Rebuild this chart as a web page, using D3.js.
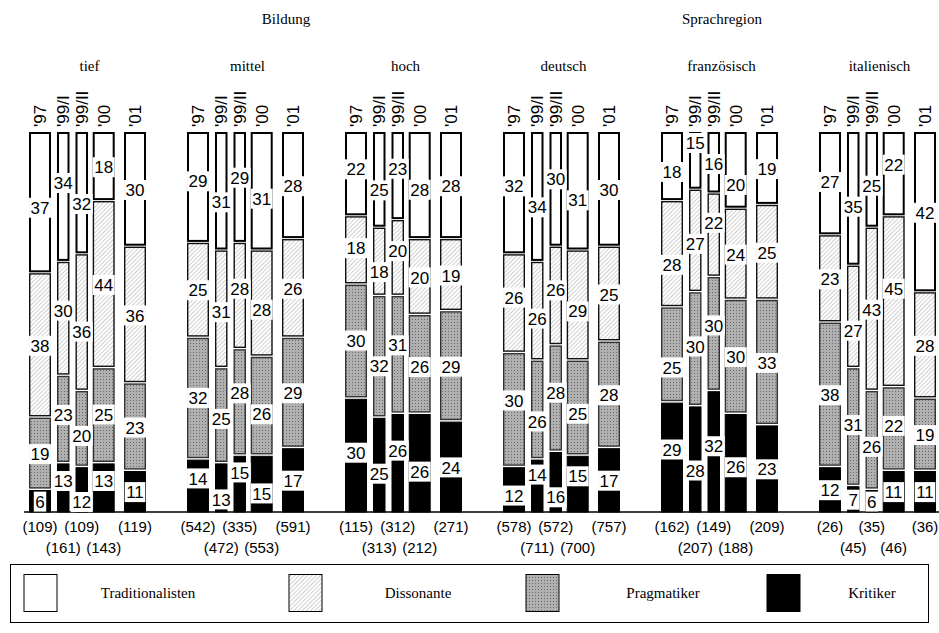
<!DOCTYPE html>
<html><head><meta charset="utf-8">
<script src="https://cdn.jsdelivr.net/npm/d3@7"></script>
<style>body{margin:0;background:#fff}</style>
</head><body>
<svg id="c" width="939" height="633"></svg>
<script>
// ---------- data ----------
const supergroups = ["Bildung", "Sprachregion"];
const groups = ["tief", "mittel", "hoch", "deutsch", "französisch", "italienisch"];
const waves = ["'97", "'99/I", "'99/II", "'00", "'01"];
const types = ["Traditionalisten", "Dissonante", "Pragmatiker", "Kritiker"];
// values per wave: [Traditionalisten, Dissonante, Pragmatiker, Kritiker]
const tief        = [[37,38,19,6],[34,30,23,13],[32,36,20,12],[18,44,25,13],[30,36,23,11]];
const mittel      = [[29,25,32,14],[31,31,25,13],[29,28,28,15],[31,28,26,15],[28,26,29,17]];
const hoch        = [[22,18,30,30],[25,18,32,25],[23,20,31,26],[28,20,26,26],[28,19,29,24]];
const deutsch     = [[32,26,30,12],[34,26,26,14],[30,26,28,16],[31,29,25,15],[30,25,28,17]];
const franzoesisch= [[18,28,25,29],[15,27,30,28],[16,22,30,32],[20,24,30,26],[19,25,33,23]];
const italienisch = [[27,23,38,12],[35,27,31,7],[25,43,26,6],[22,45,22,11],[42,28,19,11]];
const groupValues = [tief, mittel, hoch, deutsch, franzoesisch, italienisch];
// sample sizes per wave
const nTief = [109,161,109,143,119];
const nMittel = [542,472,335,553,591];
const nHoch = [115,313,312,212,271];
const nDeutsch = [578,711,572,700,757];
const nFranz = [162,207,149,188,209];
const nItal = [26,45,35,46,36];
const groupN = [nTief, nMittel, nHoch, nDeutsch, nFranz, nItal];

// ---------- layout ----------
const svg = d3.select("#c");
const yBase = 512, yTop = 132;
const y = d3.scaleLinear().domain([0, 100]).range([yBase, yTop]);
const gx = d3.scaleBand().domain(groups).range([29, 936]).paddingInner(0.2595).paddingOuter(0);
const waveOffset = d3.scaleOrdinal(waves, [0, 28, 46.5, 63.7, 95]);
const waveWidth = d3.scaleOrdinal(waves, [22, 12.5, 12.5, 22, 22]);
const nRow = d3.scaleOrdinal(waves, [0, 1, 0, 1, 0]);

const defs = svg.append("defs");
const hatch = defs.append("pattern").attr("id", "hatch").attr("patternUnits", "userSpaceOnUse")
  .attr("width", 3).attr("height", 3).attr("patternTransform", "rotate(45)");
hatch.append("rect").attr("width", 3).attr("height", 3).attr("fill", "#fff");
hatch.append("line").attr("x1", 0).attr("y1", 0).attr("x2", 0).attr("y2", 3)
  .attr("stroke", "#a0a0a0").attr("stroke-width", 1);
const dots = defs.append("pattern").attr("id", "dots").attr("patternUnits", "userSpaceOnUse")
  .attr("width", 3).attr("height", 3);
dots.append("rect").attr("width", 3).attr("height", 3).attr("fill", "#b0b0b0");
dots.append("rect").attr("x", 1).attr("y", 1).attr("width", 1).attr("height", 1).attr("fill", "#6a6a6a");

const fills = d3.scaleOrdinal(types, ["#ffffff", "url(#hatch)", "url(#dots)", "#000000"]);
const strokes = d3.scaleOrdinal(types, ["#000", "#111", "#333", "#000"]);
const strokeW = d3.scaleOrdinal(types, [2, 1.4, 1.4, 1]);

// build segments
const segs = [];
groups.forEach((g, gi) => {
  waves.forEach((w, wi) => {
    let cum = 0;
    types.slice().reverse().forEach((t) => {
      const ti = types.indexOf(t);
      const v = groupValues[gi][wi][ti];
      segs.push({g, gi, w, wi, t, v, y0: cum, y1: cum + v,
        x: gx(g) + waveOffset(w), width: waveWidth(w)});
      cum += v;
    });
  });
});

// bars
const barG = svg.append("g");
barG.selectAll("rect").data(segs).join("rect")
  .attr("x", d => d.x + strokeW(d.t) / 2)
  .attr("width", d => d.width - strokeW(d.t))
  .attr("y", d => y(d.y1) + (d.y1 >= 100 ? strokeW(d.t)/2 : 1.3))
  .attr("height", d => Math.max(0, y(d.y0) - y(d.y1) - (d.y1 >= 100 ? strokeW(d.t)/2 : 1.3) - (d.y0 === 0 ? 0 : 1.3)))
  .attr("fill", d => fills(d.t))
  .attr("stroke", d => strokes(d.t))
  .attr("stroke-width", d => strokeW(d.t));

// axis baseline
svg.append("line").attr("x1", 24).attr("x2", 939).attr("y1", yBase).attr("y2", yBase)
  .attr("stroke", "#000").attr("stroke-width", 1.5);

// value labels with simple collision repel
const labG = svg.append("g").attr("font-family", "'Liberation Sans', Arial, sans-serif").attr("font-size", 17);
const labs = segs.map(d => ({...d, cx: d.x + d.width / 2, cy: (y(d.y0) + y(d.y1)) / 2 + 1}));
const tmp = labG.append("text").text("00");
labs.forEach(l => { tmp.text(String(l.v)); l.tw = tmp.node().getComputedTextLength(); l.bw = l.tw + 3; l.ly = l.cy; });
tmp.remove();
groups.forEach(g => {
  const L = labs.filter(l => l.g === g);
  const sep = 21, padX = 3;
  for (let it = 0; it < 400; it++) {
    for (let i = 0; i < L.length; i++) for (let j = i + 1; j < L.length; j++) {
      const a = L[i], b = L[j];
      if (Math.abs(a.cx - b.cx) >= (a.bw + b.bw) / 2 + padX) continue;
      let dy = b.ly - a.ly;
      if (Math.abs(dy) >= sep) continue;
      let s = dy > 0 ? 1 : dy < 0 ? -1 : (b.cy >= a.cy ? 1 : -1);
      const push = (sep - Math.abs(dy)) / 2 * 0.5;
      a.ly -= s * push; b.ly += s * push;
    }
    L.forEach(l => { l.ly = Math.max(yTop + 11, Math.min(yBase - 10, l.ly)); });
  }
});
labG.selectAll("rect").data(labs).join("rect")
  .attr("x", d => d.cx - d.bw / 2).attr("y", d => d.ly - 10)
  .attr("width", d => d.bw).attr("height", 20).attr("fill", "#fff");
labG.selectAll("text").data(labs).join("text")
  .attr("x", d => d.cx).attr("y", d => d.ly).attr("dy", "0.36em")
  .attr("text-anchor", "middle").attr("fill", "#000").text(d => d.v);

// wave labels (rotated)
const bars = [];
groups.forEach((g, gi) => waves.forEach((w, wi) => bars.push({g, gi, w, wi,
  cx: gx(g) + waveOffset(w) + waveWidth(w) / 2, n: groupN[gi][wi]})));
svg.append("g").attr("font-family", "'Liberation Sans', Arial, sans-serif").attr("font-size", 17)
  .selectAll("text").data(bars).join("text")
  .attr("transform", d => `translate(${d.cx + 6},127) rotate(-90)`)
  .attr("text-anchor", "start").text(d => d.w);

// sample sizes
svg.append("g").attr("font-family", "'Liberation Sans', Arial, sans-serif").attr("font-size", 15)
  .selectAll("text").data(bars).join("text")
  .attr("x", d => d.cx).attr("y", d => 532 + nRow(d.w) * 21)
  .attr("text-anchor", "middle").text(d => `(${d.n})`);

// headers
const serif = "'Liberation Serif', 'Times New Roman', serif";
svg.append("g").attr("font-family", serif).attr("font-size", 15)
  .selectAll("text").data(groups).join("text")
  .attr("x", d => gx(d) + gx.bandwidth() / 2 + 2).attr("y", 71)
  .attr("text-anchor", "middle").text(d => d);
const superCenter = [286, 722];
svg.append("g").attr("font-family", serif).attr("font-size", 15)
  .selectAll("text").data(supergroups).join("text")
  .attr("x", (d, i) => superCenter[i]).attr("y", 24)
  .attr("text-anchor", "middle").text(d => d);

// legend
const leg = svg.append("g");
leg.append("rect").attr("x", 10.5).attr("y", 564.5).attr("width", 918).attr("height", 58)
  .attr("fill", "#fff").attr("stroke", "#000").attr("stroke-width", 1);
const legX = d3.scaleOrdinal(types, [24, 289, 526, 767]);
const legTextX = d3.scaleOrdinal(types, [148, 418, 663, 872]);
leg.selectAll("rect.sw").data(types).join("rect").attr("class", "sw")
  .attr("x", d => legX(d)).attr("y", 574.5).attr("width", 33).attr("height", 37)
  .attr("fill", d => fills(d)).attr("stroke", "#000").attr("stroke-width", 1);
leg.selectAll("text").data(types).join("text")
  .attr("x", d => legTextX(d)).attr("y", 598).attr("text-anchor", "middle")
  .attr("font-family", serif).attr("font-size", 15).text(d => d);
</script>
</body></html>
